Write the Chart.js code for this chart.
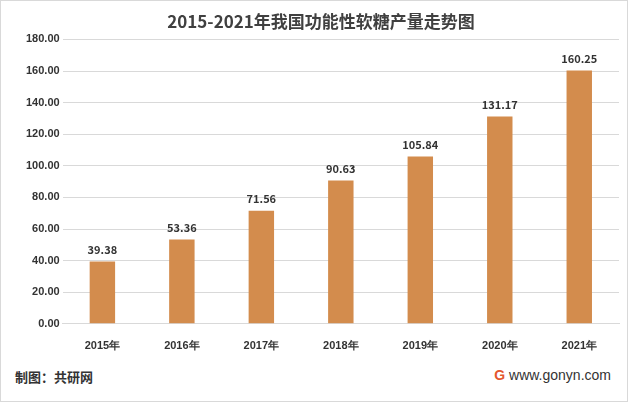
<!DOCTYPE html>
<html><head><meta charset="utf-8">
<script src="https://cdn.jsdelivr.net/npm/chart.js@4"></script>
<style>
html,body{margin:0;padding:0;background:#fff;}
#wrap{position:relative;width:626px;height:400px;border:1px solid #d9d9d9;font-family:"Noto Sans CJK SC",sans-serif;}
#c{position:absolute;left:0;top:0;}
.foot{position:absolute;font-size:13px;font-weight:bold;color:#333;}
</style></head><body>
<div id="wrap">
<canvas id="c" width="626" height="360"></canvas>
<div class="foot" style="left:14px;top:366px;">制图：共研网</div>
<div class="foot" style="right:16px;top:366px;font-weight:normal;font-family:Arial,sans-serif;font-size:14px;"><span style="color:#e4572e;font-weight:bold;">G</span> www.gonyn.com</div>
</div>
<script>
const categories=["2015年","2016年","2017年","2018年","2019年","2020年","2021年"];
const values=[39.38,53.36,71.56,90.63,105.84,131.17,160.25];
const labelPlugin={id:'lbl',afterDatasetsDraw(ch){const ctx=ch.ctx;const m=ch.getDatasetMeta(0);ctx.save();ctx.font='bold 11px "Noto Sans CJK SC",sans-serif';ctx.fillStyle='#333';ctx.textAlign='center';ctx.textBaseline='bottom';m.data.forEach((b,i)=>ctx.fillText(values[i].toFixed(2),b.x,b.y-6));ctx.restore();}};
new Chart(document.getElementById('c'),{type:'bar',
data:{labels:categories,datasets:[{data:values,backgroundColor:'#D38C4D',barPercentage:0.32,categoryPercentage:1}]},
options:{responsive:false,animation:false,layout:{padding:{left:22,right:8,top:2,bottom:0}},
plugins:{legend:{display:false},tooltip:{enabled:false},title:{display:true,text:'2015-2021年我国功能性软糖产量走势图',color:'#404040',font:{size:17,weight:'bold',family:'"Noto Sans CJK SC"'},padding:{top:8,bottom:8}}},
scales:{y:{min:0,max:180,ticks:{stepSize:20,callback:v=>v.toFixed(2),color:'#333',font:{size:11,weight:'bold'}},grid:{color:'#d9d9d9',drawTicks:false},border:{display:false}},
x:{ticks:{color:'#333',font:{size:11,weight:'bold'},padding:8},grid:{display:false},border:{color:'#d9d9d9'}}}},
plugins:[labelPlugin]});
</script></body></html>
